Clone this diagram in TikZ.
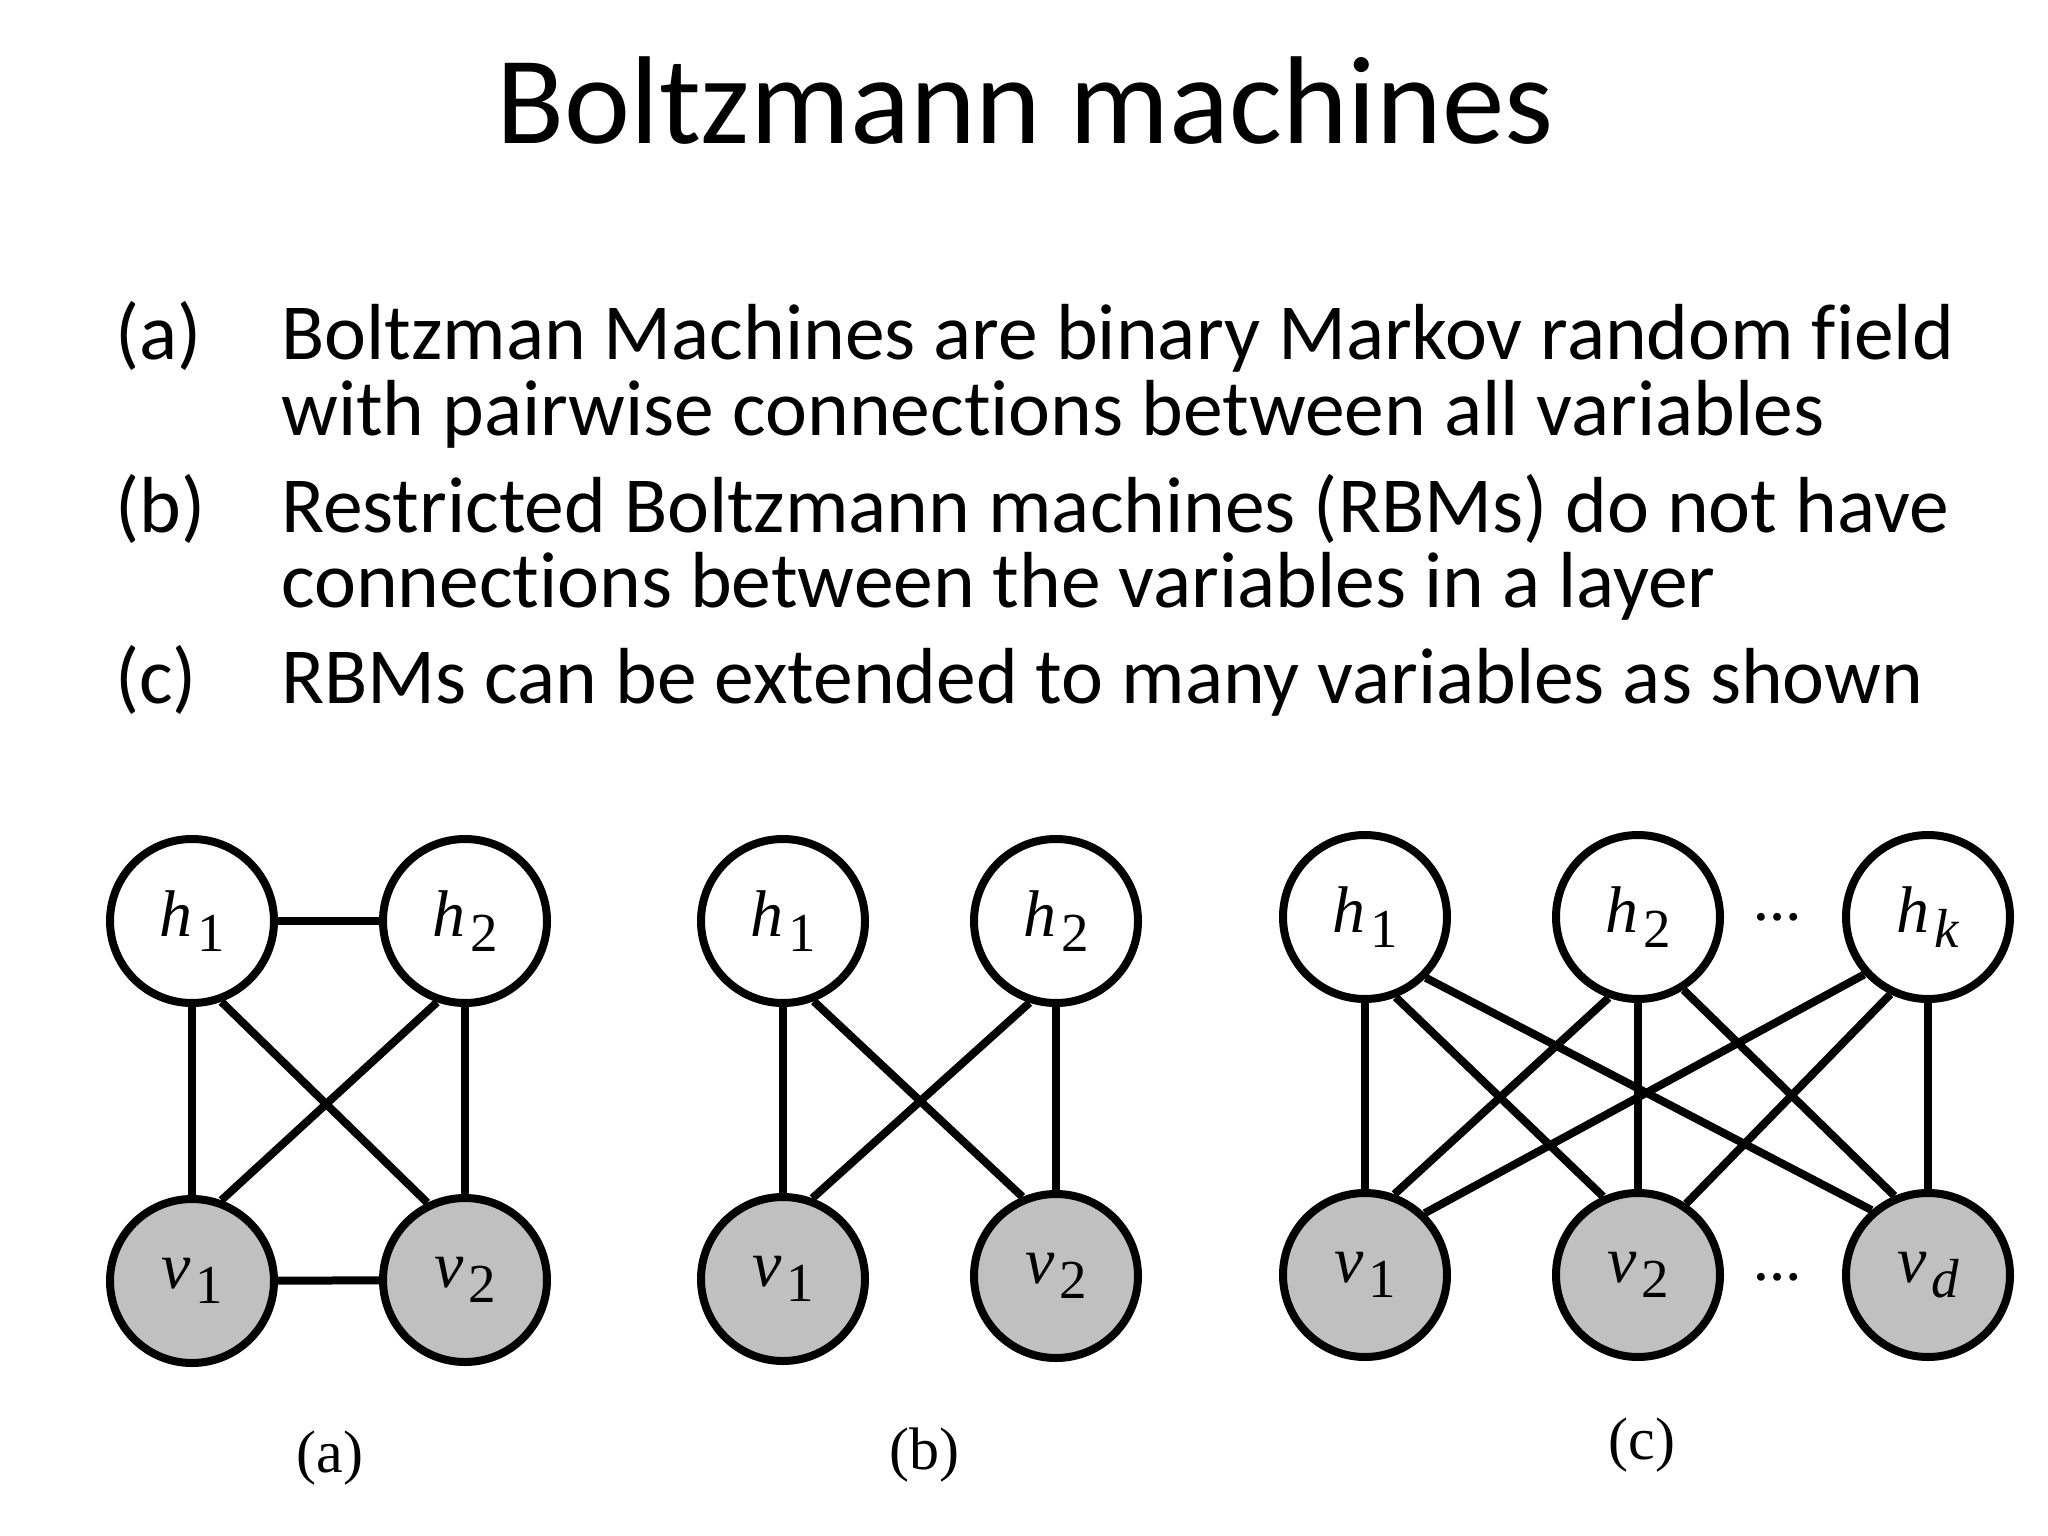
\documentclass[tikz,border=0pt]{standalone}
\usepackage{fontspec}
\setmainfont{Carlito}[Ligatures=NoCommon]
\newfontfamily\tms{Liberation Serif}
\definecolor{visgray}{RGB}{192,192,192}
\newcommand\nlab[2]{{\tms\fontsize{66}{66}\selectfont\textit{#1}\hspace{5pt}\raisebox{-15pt}{\fontsize{55}{55}\selectfont #2}}}
\begin{document}
\begin{tikzpicture}[x=1pt,y=-1pt,
  hid/.style={circle,draw,line width=8pt,minimum size=164pt,inner sep=0pt,fill=white},
  vis/.style={hid,fill=visgray},
  link/.style={line width=8pt},
  body/.style={anchor=base west,inner sep=0pt,font=\fontsize{79.5}{79.5}\selectfont},
  titletext/.style={anchor=base,inner sep=0pt,font=\fontsize{125}{125}\selectfont},
  subcap/.style={inner sep=0pt,font=\tms\fontsize{60}{60}\selectfont},
  dotsym/.style={inner sep=0pt,font=\tms\bfseries\fontsize{48}{48}\selectfont}]
\useasboundingbox (0,0) rectangle (2048,1536);
\node[titletext] (t) at (1025,144) {Boltzmann machines};
\node[body] (la) at (115,359) {(a)};
\node[body] (a1) at (281,359) {Boltzman Machines are binary Markov random field};
\node[body] (a2) at (281,435) {with pairwise connections between all variables};
\node[body] (lb) at (115,532) {(b)};
\node[body] (b1) at (281,532) {Restricted Boltzmann machines (RBMs) do not have};
\node[body] (b2) at (281,607) {connections between the variables in a layer};
\node[body] (lc) at (115,703) {(c)};
\node[body] (c1) at (281,703) {RBMs can be extended to many variables as shown};
% panel (a)
\node[hid] (ah1) at (192,921) {\nlab{h}{1}};
\node[hid] (ah2) at (465,921) {\nlab{h}{2}};
\node[vis] (av1) at (192,1281) {\nlab{v}{1}};
\node[vis] (av2) at (465,1280) {\nlab{v}{2}};
\draw[link] (ah1) -- (ah2);
\draw[link] (av1) -- (av2);
\draw[link] (ah1) -- (av1);
\draw[link] (ah2) -- (av2);
\draw[link] (ah1.-70) -- (av2.116);
\draw[link] (ah2.-109) -- (av1.70);
\node[subcap] (ca) at (330,1458) {(a)};
% panel (b)
\node[hid] (bh1) at (783,921) {\nlab{h}{1}};
\node[hid] (bh2) at (1056,921) {\nlab{h}{2}};
\node[vis] (bv1) at (783,1279) {\nlab{v}{1}};
\node[vis] (bv2) at (1056,1276) {\nlab{v}{2}};
\draw[link] (bh1) -- (bv1);
\draw[link] (bh2) -- (bv2);
\draw[link] (bh1.-69) -- (bv2.113);
\draw[link] (bh2.-108) -- (bv1.70);
\node[subcap] (cb) at (924,1455) {(b)};
% panel (c)
\node[hid] (ch1) at (1365,917) {\nlab{h}{1}};
\node[hid] (ch2) at (1638,917) {\nlab{h}{2}};
\node[hid] (chk) at (1928,917) {\nlab{h}{\textit{k}}};
\node[vis] (cv1) at (1365,1275) {\nlab{v}{1}};
\node[vis] (cv2) at (1638,1275) {\nlab{v}{2}};
\node[vis] (cvd) at (1928,1275) {\nlab{v}{\textit{d}}};
\node[dotsym] (dt) at (1777,917) {…};
\node[dotsym] (db) at (1777,1277) {…};
\draw[link] (ch1) -- (cv1);
\draw[link] (ch2) -- (cv2);
\draw[link] (chk) -- (cvd);
\draw[link] (ch1.-69) -- (cv2.114);
\draw[link] (ch1.-45) -- (cvd.131);
\draw[link] (ch2.-110) -- (cv1.70);
\draw[link] (ch2.-58) -- (cvd.113);
\draw[link] (chk.-138) -- (cv1.46);
\draw[link] (chk.-116) -- (cv2.56);
\node[subcap] (cc) at (1642,1445) {(c)};
\end{tikzpicture}
\end{document}
